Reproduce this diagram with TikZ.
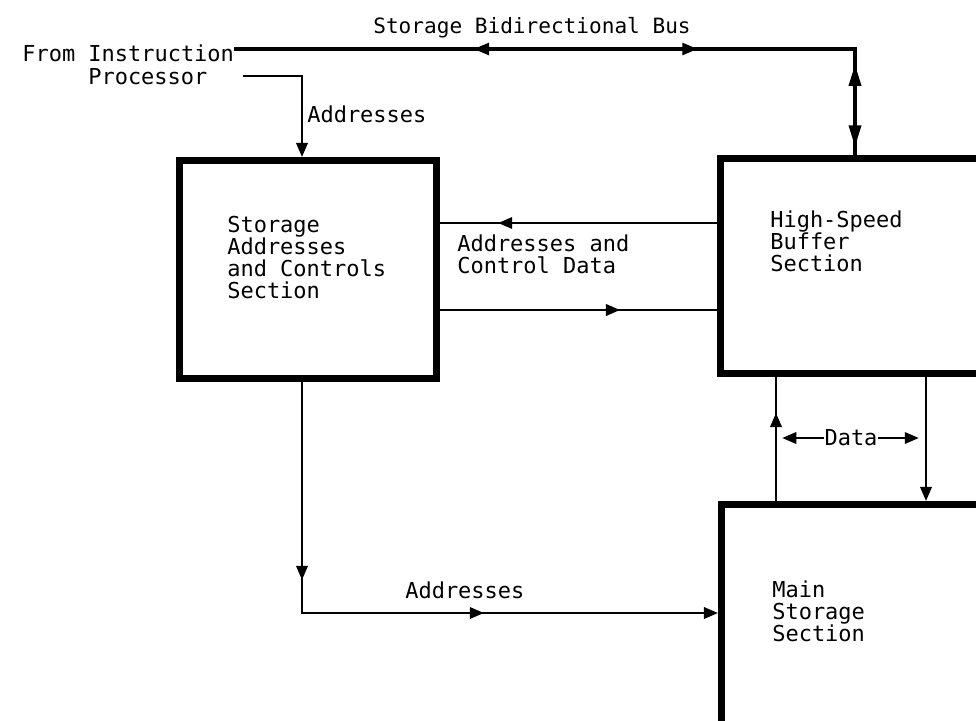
\documentclass[tikz,border=0pt]{standalone}
\usepackage{fontspec}
\setmonofont{DejaVu Sans Mono}
\usetikzlibrary{arrows.meta, decorations.markings}

\begin{document}
\begin{tikzpicture}[x=0.02cm, y=-0.02cm, >={Triangle[length=8pt, width=6.5pt]},
    every node/.style={font=\ttfamily\fontsize{12.5}{12.5}\selectfont, inner sep=0pt},
    unit/.style={draw, line width=4pt, anchor=north west},
    flow/.style={line width=1.3pt},
    bus/.style={line width=2.8pt, >={Triangle[length=9pt, width=6.5pt]}},
    txt/.style={anchor=base west, align=left},
    mid arrow/.style={postaction={decorate}, decoration={markings,
        mark=at position #1 with {\arrow{>}}}}]
    \useasboundingbox (0,0) rectangle (976,720);
    \clip (0,0) rectangle (976,720);

    % units
    \node[unit, minimum width=5.14cm, minimum height=4.36cm] (sac) at (176,157) {};
    \node[unit, minimum width=6.4cm, minimum height=4.3cm] (hsb) at (717,155) {};
    \node[unit, minimum width=6.4cm, minimum height=6cm] (mss) at (718,501) {};

    % base of the last line
    \node[txt] (sactxt) at (227,298) {Storage\\Addresses\\and Controls\\Section};
    \node[txt] (hsbtxt) at (770,271) {High-Speed\\Buffer\\Section};
    \node[txt] (msstxt) at (772,641) {Main\\Storage\\Section};

    % labels
    \node[txt, font=\ttfamily\fontsize{12}{12}\selectfont] (bustxt) at (373,33) {Storage Bidirectional Bus};
    \node[txt] (from) at (22,61) {From Instruction};
    \node[txt] (proc) at (88,84) {Processor};
    \node[txt] (addr1) at (307,122) {Addresses};
    \node[txt] (acd) at (457,273) {Addresses and\\Control Data};
    \node (data) at (851,438) {Data};
    \node[txt] (addr2) at (405,598) {Addresses};

    % storage bus
    \coordinate (busturn) at (855,49);
    \draw[bus, postaction={decorate}, decoration={markings,
        mark=at position 4.78cm with {\arrowreversed{>}},
        mark=at position 9.28cm with {\arrow{>}},
        mark=at position 12.7cm with {\arrowreversed{Triangle[length=13pt, width=6.5pt]}},
        mark=at position 14.4cm with {\arrow{Triangle[length=13pt, width=6.5pt]}}}]
        (from.east |- busturn) -- (busturn) -- (hsb.north -| busturn);

    % addresses in
    \draw[flow, ->] ([xshift=0.7cm]proc.east) -| ([xshift=-0.12cm]sac.north);

    % addresses and control data
    \draw[flow, mid arrow=0.79] (hsb.west |- 0,223) -- (sac.east |- 0,223);
    \draw[flow, mid arrow=0.65] (sac.east |- 0,310) -- (hsb.west |- 0,310);

    % data
    \draw[flow, mid arrow=0.71] (mss.north -| 776,0) -- (hsb.south -| 776,0);
    \draw[flow, ->] (hsb.south -| 926,0) -- (mss.north -| 926,0);
    \draw[flow, ->] (data.west) -- ++(-42,0);
    \draw[flow, ->] (data.east) -- ++(41,0);

    % addresses out
    \draw[flow, ->, postaction={decorate}, decoration={markings,
        mark=at position 3.96cm with {\arrow{>}},
        mark=at position 8.26cm with {\arrow{>}}}]
        ([xshift=-0.12cm]sac.south) |- (mss.west |- 0,613);
\end{tikzpicture}
\end{document}
